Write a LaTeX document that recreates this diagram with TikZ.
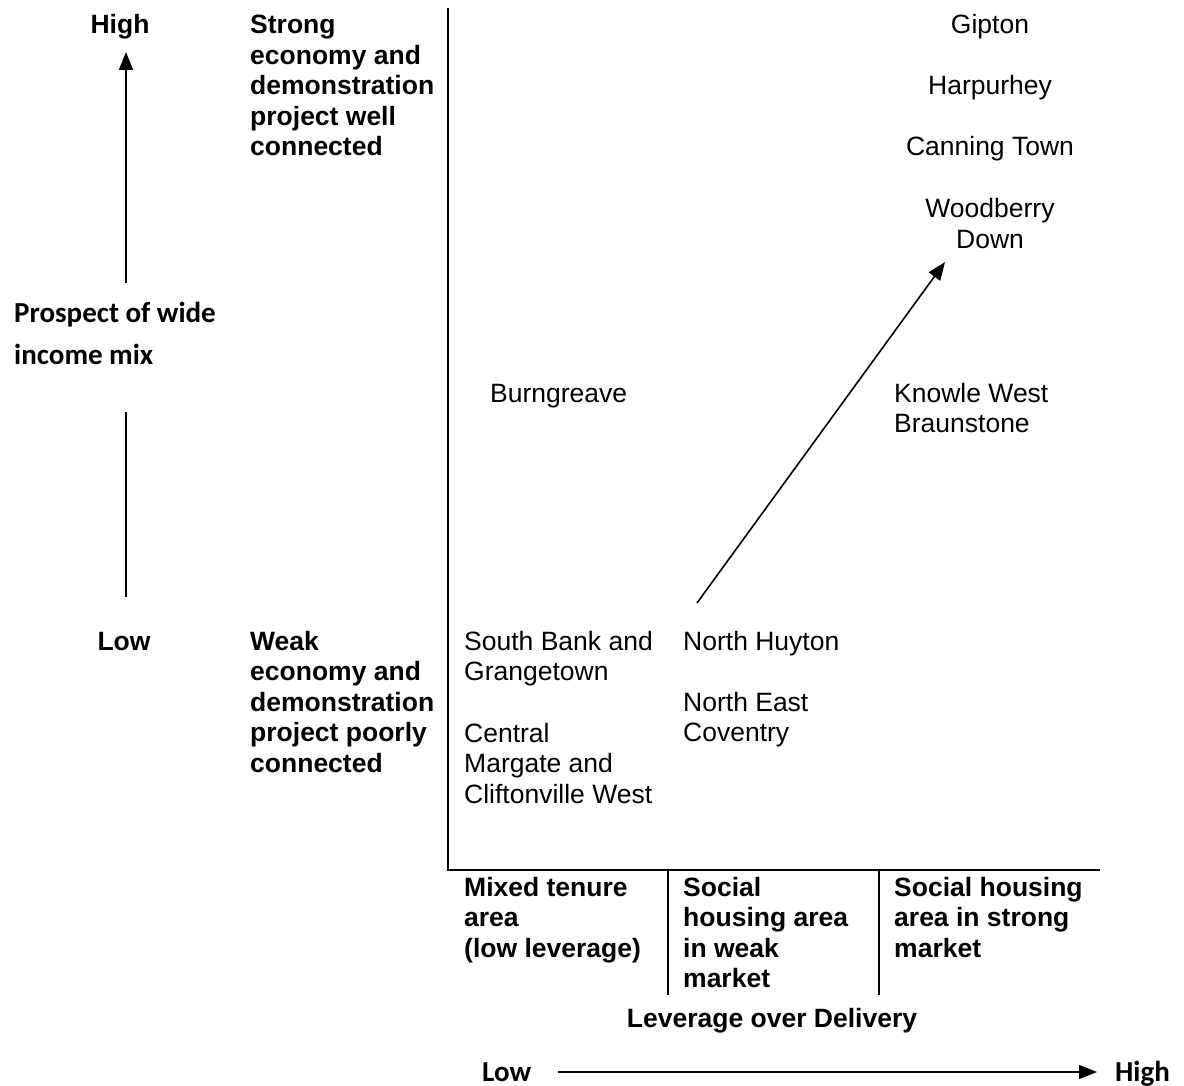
\documentclass[tikz,border=0pt]{standalone}
\usepackage{fontspec}
\setmainfont{Liberation Sans}
\newfontfamily\calfont{Carlito}
\usetikzlibrary{arrows.meta}
\newcommand{\mytl}[1]{\begin{tabular}[t]{@{}l@{}}#1\end{tabular}}
\newcommand{\mytc}[1]{\begin{tabular}[t]{@{}c@{}}#1\end{tabular}}
\begin{document}
\begin{tikzpicture}[x=1pt,y=-1pt,
  txt/.style={inner sep=0pt,font=\fontsize{26.5}{30.5}\selectfont,anchor=base west},
  txtc/.style={txt,anchor=base},
  btxt/.style={txt,font=\fontsize{26.5}{30.5}\selectfont\bfseries},
  ctxt/.style={inner sep=0pt,font=\fontsize{29}{42}\selectfont\calfont\bfseries,anchor=base west},
  axis/.style={line width=2pt},
  arr/.style={line width=1.6pt,-{Triangle[length=18pt,width=14pt]}},
  plain/.style={line width=1.6pt}]
\useasboundingbox (0,0) rectangle (1184,1086);

% axes
\coordinate (axtop) at (448,8);
\coordinate (corner) at (448,870);
\coordinate (axright) at (1100,870);
\draw[axis] (axtop) -- (corner) -- (axright);
\coordinate (d1t) at (668,870); \coordinate (d1b) at (668,995);
\coordinate (d2t) at (879,870); \coordinate (d2b) at (879,995);
\draw[axis] (d1t) -- (d1b);
\draw[axis] (d2t) -- (d2b);

% left vertical axis arrow
\coordinate (la1) at (126,283); \coordinate (la2) at (126,52);
\draw[arr] (la1) -- (la2);
\coordinate (lb1) at (126,412); \coordinate (lb2) at (126,597);
\draw[plain] (lb1) -- (lb2);

% diagonal arrow
\coordinate (dg1) at (697,603); \coordinate (dg2) at (945,262);
\draw[arr] (dg1) -- (dg2);

% bottom arrow
\coordinate (ba1) at (558,1072); \coordinate (ba2) at (1097,1072);
\draw[arr] (ba1) -- (ba2);

% left labels
\node[btxt,anchor=base] (high) at (120,34) {High};
\node[btxt,anchor=base] (low) at (124,650) {Low};
\node[btxt] (strong) at (250,34) {\mytl{Strong\\economy and\\demonstration\\project well\\connected}};
\node[btxt] (weak) at (250,650) {\mytl{Weak\\economy and\\demonstration\\project poorly\\connected}};
\node[ctxt] (prospect) at (14,323) {\mytl{Prospect of wide\\income mix}};

% places
\node[txtc] (gipton) at (990,34) {Gipton};
\node[txtc] (harp) at (990,95) {Harpurhey};
\node[txtc] (canning) at (990,156) {Canning Town};
\node[txtc] (woodb) at (990,218) {\mytc{Woodberry\\Down}};
\node[txt] (burn) at (490,402) {Burngreave};
\node[txt] (knowle) at (894,402) {\mytl{Knowle West\\Braunstone}};
\node[txt] (south) at (464,650) {\mytl{South Bank and\\Grangetown}};
\node[txt] (central) at (464,742) {\mytl{Central\\Margate and\\Cliftonville West}};
\node[txt] (huyton) at (683,650) {North Huyton};
\node[txt] (coventry) at (683,711) {\mytl{North East\\Coventry}};

% bottom categories
\node[btxt] (mixed) at (464,896) {\mytl{Mixed tenure\\area\\(low leverage)}};
\node[btxt] (weakmkt) at (683,896) {\mytl{Social\\housing area\\in weak\\market}};
\node[btxt] (strongmkt) at (894,896) {\mytl{Social housing\\area in strong\\market}};
\node[btxt,anchor=base] (leverage) at (772,1027) {Leverage over Delivery};
\node[ctxt] (blow) at (482,1081) {Low};
\node[ctxt,anchor=base east] (bhigh) at (1170,1081) {High};
\end{tikzpicture}
\end{document}
